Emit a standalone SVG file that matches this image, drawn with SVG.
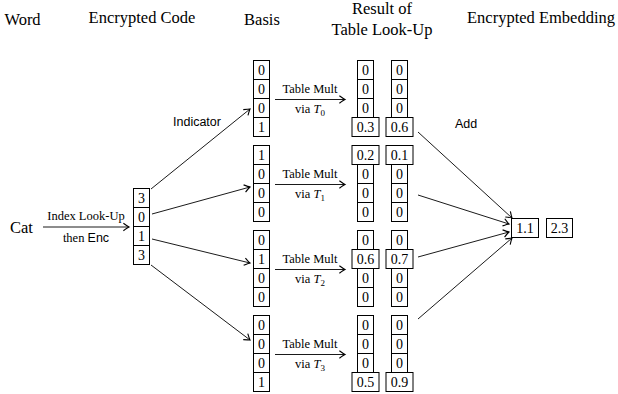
<svg xmlns="http://www.w3.org/2000/svg" width="618" height="394" viewBox="0 0 618 394">
  <style>
    .cell { fill: #fff; stroke: #000; stroke-width: 1; }
    .num { font-family: "Liberation Serif", serif; font-size: 14px; text-anchor: middle; fill: #000; }
    .hdr { font-family: "Liberation Serif", serif; font-size: 16.5px; text-anchor: middle; fill: #000; }
    .lbl { font-family: "Liberation Serif", serif; font-size: 12.5px; text-anchor: middle; fill: #000; }
    .sans { font-family: "Liberation Sans", Arial, sans-serif; font-size: 12.5px; fill: #000; }
    .conn { stroke: #000; stroke-width: 0.9; fill: none; marker-end: url(#arr); }
  </style>
  <defs>
    <marker id="arr" markerUnits="userSpaceOnUse" markerWidth="10" markerHeight="10" viewBox="-6 -4 8 8" refX="0" refY="0" orient="auto">
      <path d="M -4.5 -3 Q -1.2 -0.6 0 0 Q -1.2 0.6 -4.5 3" fill="none" stroke="#000" stroke-width="0.9"/>
    </marker>
    <!-- one narrow cell of a column -->
    <rect id="c" class="cell" x="0" y="0" width="16" height="19"/>
    <rect id="w" class="cell" x="0" y="0" width="27" height="19"/>
  </defs>

  <!-- column headers -->
  <g id="headers">
    <text class="hdr" x="22.5" y="25">Word</text>
    <text class="hdr" x="142" y="23">Encrypted Code</text>
    <text class="hdr" x="262" y="25">Basis</text>
    <text class="hdr" x="382" y="14">Result of</text>
    <text class="hdr" x="382" y="35">Table Look-Up</text>
    <text class="hdr" x="541" y="23">Encrypted Embedding</text>
  </g>

  <!-- input word -->
  <g id="word">
    <text class="hdr" x="21.5" y="233">Cat</text>
  </g>

  <!-- encrypted code column -->
  <g id="code" transform="translate(133.5,188.5)">
    <use href="#c" y="0"/><use href="#c" y="19"/><use href="#c" y="38"/><use href="#c" y="57"/>
    <text class="num" x="8" y="14.5">3</text>
    <text class="num" x="8" y="33.5">0</text>
    <text class="num" x="8" y="52.5">1</text>
    <text class="num" x="8" y="71.5">3</text>
  </g>

  <!-- basis vectors -->
  <g id="basis0" transform="translate(253.5,60.5)">
    <use href="#c" y="0"/><use href="#c" y="19"/><use href="#c" y="38"/><use href="#c" y="57"/>
    <text class="num" x="8" y="14.5">0</text><text class="num" x="8" y="33.5">0</text>
    <text class="num" x="8" y="52.5">0</text><text class="num" x="8" y="71.5">1</text>
  </g>
  <g id="basis1" transform="translate(253.5,145.5)">
    <use href="#c" y="0"/><use href="#c" y="19"/><use href="#c" y="38"/><use href="#c" y="57"/>
    <text class="num" x="8" y="14.5">1</text><text class="num" x="8" y="33.5">0</text>
    <text class="num" x="8" y="52.5">0</text><text class="num" x="8" y="71.5">0</text>
  </g>
  <g id="basis2" transform="translate(253.5,230.5)">
    <use href="#c" y="0"/><use href="#c" y="19"/><use href="#c" y="38"/><use href="#c" y="57"/>
    <text class="num" x="8" y="14.5">0</text><text class="num" x="8" y="33.5">1</text>
    <text class="num" x="8" y="52.5">0</text><text class="num" x="8" y="71.5">0</text>
  </g>
  <g id="basis3" transform="translate(253.5,315.5)">
    <use href="#c" y="0"/><use href="#c" y="19"/><use href="#c" y="38"/><use href="#c" y="57"/>
    <text class="num" x="8" y="14.5">0</text><text class="num" x="8" y="33.5">0</text>
    <text class="num" x="8" y="52.5">0</text><text class="num" x="8" y="71.5">1</text>
  </g>

  <!-- table look-up results, two columns per basis vector -->
  <g id="result0" transform="translate(0,60.5)">
    <use href="#c" x="357.5" y="0"/><use href="#c" x="357.5" y="19"/><use href="#c" x="357.5" y="38"/><use href="#w" x="352" y="57"/>
    <use href="#c" x="391.5" y="0"/><use href="#c" x="391.5" y="19"/><use href="#c" x="391.5" y="38"/><use href="#w" x="386" y="57"/>
    <text class="num" x="365.5" y="14.5">0</text><text class="num" x="365.5" y="33.5">0</text>
    <text class="num" x="365.5" y="52.5">0</text><text class="num" x="365.5" y="71.5">0.3</text>
    <text class="num" x="399.5" y="14.5">0</text><text class="num" x="399.5" y="33.5">0</text>
    <text class="num" x="399.5" y="52.5">0</text><text class="num" x="399.5" y="71.5">0.6</text>
  </g>
  <g id="result1" transform="translate(0,145.5)">
    <use href="#w" x="352" y="0"/><use href="#c" x="357.5" y="19"/><use href="#c" x="357.5" y="38"/><use href="#c" x="357.5" y="57"/>
    <use href="#w" x="386" y="0"/><use href="#c" x="391.5" y="19"/><use href="#c" x="391.5" y="38"/><use href="#c" x="391.5" y="57"/>
    <text class="num" x="365.5" y="14.5">0.2</text><text class="num" x="365.5" y="33.5">0</text>
    <text class="num" x="365.5" y="52.5">0</text><text class="num" x="365.5" y="71.5">0</text>
    <text class="num" x="399.5" y="14.5">0.1</text><text class="num" x="399.5" y="33.5">0</text>
    <text class="num" x="399.5" y="52.5">0</text><text class="num" x="399.5" y="71.5">0</text>
  </g>
  <g id="result2" transform="translate(0,230.5)">
    <use href="#c" x="357.5" y="0"/><use href="#w" x="352" y="19"/><use href="#c" x="357.5" y="38"/><use href="#c" x="357.5" y="57"/>
    <use href="#c" x="391.5" y="0"/><use href="#w" x="386" y="19"/><use href="#c" x="391.5" y="38"/><use href="#c" x="391.5" y="57"/>
    <text class="num" x="365.5" y="14.5">0</text><text class="num" x="365.5" y="33.5">0.6</text>
    <text class="num" x="365.5" y="52.5">0</text><text class="num" x="365.5" y="71.5">0</text>
    <text class="num" x="399.5" y="14.5">0</text><text class="num" x="399.5" y="33.5">0.7</text>
    <text class="num" x="399.5" y="52.5">0</text><text class="num" x="399.5" y="71.5">0</text>
  </g>
  <g id="result3" transform="translate(0,315.5)">
    <use href="#c" x="357.5" y="0"/><use href="#c" x="357.5" y="19"/><use href="#c" x="357.5" y="38"/><use href="#w" x="352" y="57"/>
    <use href="#c" x="391.5" y="0"/><use href="#c" x="391.5" y="19"/><use href="#c" x="391.5" y="38"/><use href="#w" x="386" y="57"/>
    <text class="num" x="365.5" y="14.5">0</text><text class="num" x="365.5" y="33.5">0</text>
    <text class="num" x="365.5" y="52.5">0</text><text class="num" x="365.5" y="71.5">0.5</text>
    <text class="num" x="399.5" y="14.5">0</text><text class="num" x="399.5" y="33.5">0</text>
    <text class="num" x="399.5" y="52.5">0</text><text class="num" x="399.5" y="71.5">0.9</text>
  </g>

  <!-- encrypted embedding -->
  <g id="embedding">
    <rect class="cell" x="511.5" y="218.5" width="27" height="19"/>
    <rect class="cell" x="546.5" y="218.5" width="26" height="19"/>
    <text class="num" x="525" y="233">1.1</text>
    <text class="num" x="559.5" y="233">2.3</text>
  </g>

  <!-- connectors -->
  <g id="connectors">
    <line class="conn" x1="43" y1="227" x2="129" y2="227"/>
    <line class="conn" x1="151" y1="189" x2="250" y2="109"/>
    <line class="conn" x1="152" y1="214" x2="250" y2="187"/>
    <line class="conn" x1="152" y1="239" x2="250" y2="263"/>
    <line class="conn" x1="151" y1="265" x2="250" y2="340"/>
    <line class="conn" x1="275" y1="99.5" x2="345" y2="99.5"/>
    <line class="conn" x1="275" y1="184.5" x2="345" y2="184.5"/>
    <line class="conn" x1="275" y1="269.5" x2="345" y2="269.5"/>
    <line class="conn" x1="275" y1="354.5" x2="345" y2="354.5"/>
    <line class="conn" x1="418" y1="132" x2="512" y2="218"/>
    <line class="conn" x1="418" y1="195" x2="509" y2="224"/>
    <line class="conn" x1="418" y1="257" x2="509" y2="232"/>
    <line class="conn" x1="418" y1="319" x2="512" y2="238"/>
  </g>

  <!-- connector labels -->
  <g id="labels">
    <text class="lbl" x="86" y="220">Index Look-Up</text>
    <text class="lbl" x="86" y="242">then <tspan class="sans">Enc</tspan></text>
    <text class="sans" x="173" y="126">Indicator</text>
    <text class="sans" x="455" y="128">Add</text>
    <text class="lbl" x="310" y="92.5">Table Mult</text>
    <text class="lbl" x="310" y="113">via <tspan font-style="italic">T</tspan><tspan font-size="9" dy="2.5">0</tspan></text>
    <text class="lbl" x="310" y="177.5">Table Mult</text>
    <text class="lbl" x="310" y="198">via <tspan font-style="italic">T</tspan><tspan font-size="9" dy="2.5">1</tspan></text>
    <text class="lbl" x="310" y="262.5">Table Mult</text>
    <text class="lbl" x="310" y="283">via <tspan font-style="italic">T</tspan><tspan font-size="9" dy="2.5">2</tspan></text>
    <text class="lbl" x="310" y="347.5">Table Mult</text>
    <text class="lbl" x="310" y="368">via <tspan font-style="italic">T</tspan><tspan font-size="9" dy="2.5">3</tspan></text>
  </g>
</svg>
